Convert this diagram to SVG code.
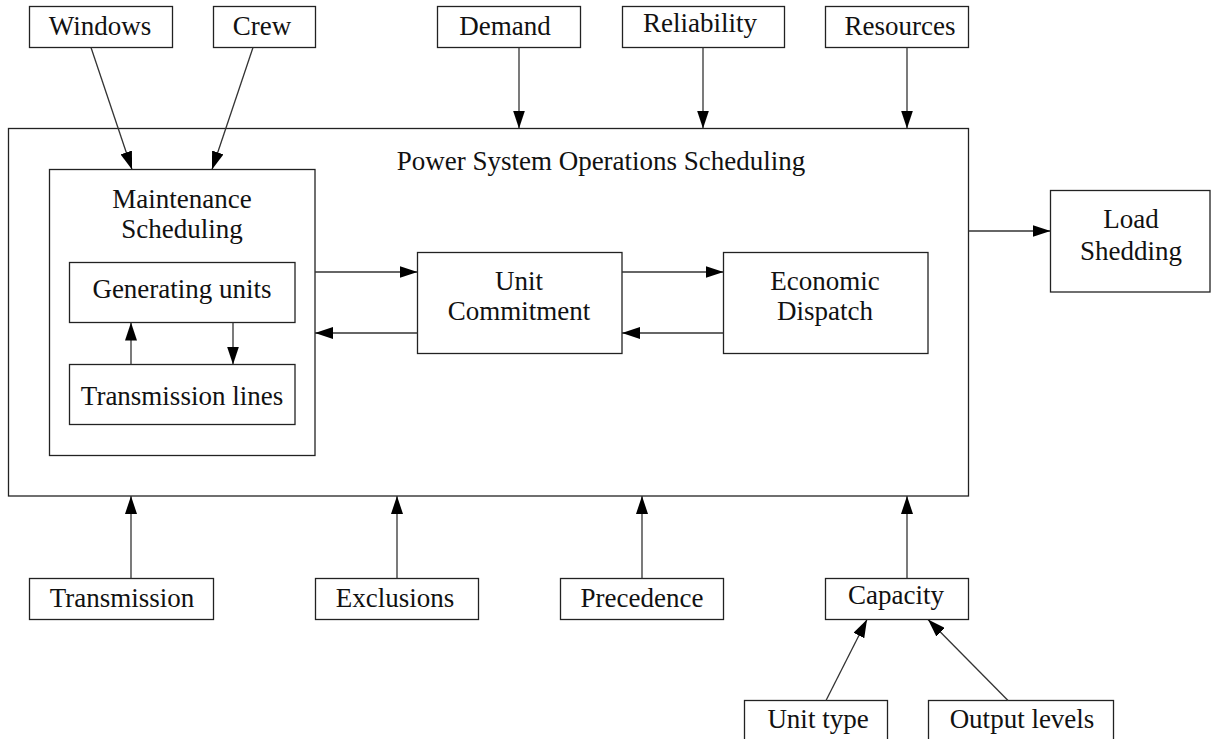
<svg xmlns="http://www.w3.org/2000/svg" width="1211" height="739" viewBox="0 0 1211 739">
  <style>
    .box { fill: #ffffff; stroke: #222222; stroke-width: 1.3; }
    .lbl { font-family: "Liberation Serif", "Times New Roman", serif; font-size: 27px; fill: #111111; text-anchor: middle; }
    .edge { fill: none; stroke: #333333; stroke-width: 1.3; marker-end: url(#head); }
  </style>
  <defs>
    <marker id="head" markerUnits="userSpaceOnUse" markerWidth="19" markerHeight="12" refX="18" refY="6" orient="auto">
      <path d="M0,0 L18,6 L0,12 Z" fill="#000000"/>
    </marker>
  </defs>
  <rect width="1211" height="739" fill="#ffffff"/>

  <!-- outer scheduling frame -->
  <g id="operations">
    <rect class="box" x="8.5" y="128.5" width="960" height="367.5"/>
    <text class="lbl" x="601" y="170">Power System Operations Scheduling</text>
  </g>

  <!-- top inputs -->
  <g id="windows">
    <rect class="box" x="29.5" y="6.5" width="143" height="41"/>
    <text class="lbl" x="100" y="35">Windows</text>
  </g>
  <g id="crew">
    <rect class="box" x="213.5" y="6.5" width="102" height="41"/>
    <text class="lbl" x="262" y="35">Crew</text>
  </g>
  <g id="demand">
    <rect class="box" x="437.5" y="6.5" width="143" height="41"/>
    <text class="lbl" x="505" y="35">Demand</text>
  </g>
  <g id="reliability">
    <rect class="box" x="622.5" y="6.5" width="162" height="41"/>
    <text class="lbl" x="700" y="32">Reliability</text>
  </g>
  <g id="resources">
    <rect class="box" x="825.5" y="6.5" width="143" height="41"/>
    <text class="lbl" x="900" y="35">Resources</text>
  </g>

  <!-- maintenance scheduling block -->
  <g id="maintenance">
    <rect class="box" x="49.5" y="169.5" width="265.5" height="286"/>
    <text class="lbl" x="182" y="208">Maintenance</text>
    <text class="lbl" x="182" y="238">Scheduling</text>
  </g>
  <g id="generating-units">
    <rect class="box" x="69.5" y="262.5" width="225.5" height="60"/>
    <text class="lbl" x="182" y="298">Generating units</text>
  </g>
  <g id="transmission-lines">
    <rect class="box" x="69.5" y="364.5" width="225.5" height="60"/>
    <text class="lbl" x="182" y="405">Transmission lines</text>
  </g>

  <g id="unit-commitment">
    <rect class="box" x="417.5" y="252.5" width="204.5" height="101"/>
    <text class="lbl" x="519" y="290">Unit</text>
    <text class="lbl" x="519" y="320">Commitment</text>
  </g>
  <g id="economic-dispatch">
    <rect class="box" x="723.5" y="252.5" width="204.5" height="101"/>
    <text class="lbl" x="825" y="290">Economic</text>
    <text class="lbl" x="825" y="320">Dispatch</text>
  </g>

  <g id="load-shedding">
    <rect class="box" x="1050.5" y="190.5" width="159.5" height="101.5"/>
    <text class="lbl" x="1131" y="228">Load</text>
    <text class="lbl" x="1131" y="260">Shedding</text>
  </g>

  <!-- bottom inputs -->
  <g id="transmission">
    <rect class="box" x="29.5" y="578.5" width="184" height="41"/>
    <text class="lbl" x="122" y="607">Transmission</text>
  </g>
  <g id="exclusions">
    <rect class="box" x="315.5" y="578.5" width="163" height="41"/>
    <text class="lbl" x="395" y="607">Exclusions</text>
  </g>
  <g id="precedence">
    <rect class="box" x="560.5" y="578.5" width="163" height="41"/>
    <text class="lbl" x="642" y="607">Precedence</text>
  </g>
  <g id="capacity">
    <rect class="box" x="825.5" y="578.5" width="143" height="41"/>
    <text class="lbl" x="896" y="604">Capacity</text>
  </g>
  <g id="unit-type">
    <rect class="box" x="744.5" y="700.5" width="143" height="45"/>
    <text class="lbl" x="818" y="728">Unit type</text>
  </g>
  <g id="output-levels">
    <rect class="box" x="928.5" y="700.5" width="185" height="45"/>
    <text class="lbl" x="1022" y="728">Output levels</text>
  </g>

  <!-- connectors -->
  <g id="connectors">
    <line class="edge" x1="91" y1="47.5" x2="132" y2="169.5"/>
    <line class="edge" x1="253" y1="47.5" x2="212" y2="169.5"/>
    <line class="edge" x1="519" y1="47.5" x2="519" y2="128.5"/>
    <line class="edge" x1="703" y1="47.5" x2="703" y2="128.5"/>
    <line class="edge" x1="907" y1="47.5" x2="907" y2="128.5"/>

    <line class="edge" x1="131" y1="364.5" x2="131" y2="322.5"/>
    <line class="edge" x1="233" y1="322.5" x2="233" y2="364.5"/>

    <line class="edge" x1="315" y1="272" x2="417.5" y2="272"/>
    <line class="edge" x1="417.5" y1="333" x2="315" y2="333"/>
    <line class="edge" x1="622" y1="272" x2="723.5" y2="272"/>
    <line class="edge" x1="723.5" y1="333" x2="622" y2="333"/>
    <line class="edge" x1="968.5" y1="231" x2="1050.5" y2="231"/>

    <line class="edge" x1="131" y1="578.5" x2="131" y2="496"/>
    <line class="edge" x1="397" y1="578.5" x2="397" y2="496"/>
    <line class="edge" x1="642" y1="578.5" x2="642" y2="496"/>
    <line class="edge" x1="907" y1="578.5" x2="907" y2="496"/>

    <line class="edge" x1="826" y1="700.5" x2="867" y2="619.5"/>
    <line class="edge" x1="1008" y1="700.5" x2="928" y2="619.5"/>
  </g>
</svg>
